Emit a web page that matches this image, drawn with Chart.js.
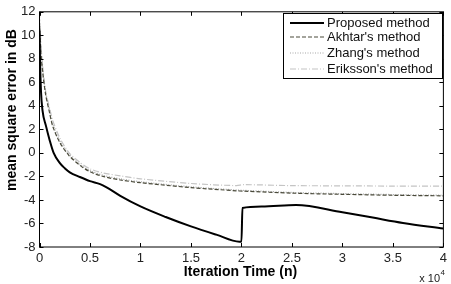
<!DOCTYPE html>
<html>
<head>
<meta charset="utf-8">
<script src="https://cdn.jsdelivr.net/npm/chart.js@4.4.0/dist/chart.umd.min.js"></script>
<style>
  html, body { margin: 0; padding: 0; background: #fff; }
  #wrap { width: 451px; height: 284px; position: relative; }
</style>
</head>
<body>
<div id="wrap"><canvas id="c"></canvas></div>
<script>
// iteration counts (x 10^4 on the axis)
const proposedX = [0, 50, 150, 300, 640, 1000, 1400, 2000, 2500, 3000, 4000, 5000, 6000, 6600, 8000, 10000, 12500, 15000, 17500, 19800, 20000, 20100, 22000, 25400, 30000, 33000, 36000, 40000];
const proposedY = [10.5, 8, 5.2, 3.6, 2.3, 1.1, 0.0, -0.85, -1.3, -1.65, -2.05, -2.4, -2.65, -2.9, -3.65, -4.55, -5.45, -6.25, -6.95, -7.55, -7.55, -4.68, -4.55, -4.43, -5.05, -5.5, -5.95, -6.43];

const grayX = [0, 100, 300, 600, 1000, 1300, 2000, 2900, 4000, 5000, 6300, 8000, 10000, 15000, 19500, 20200, 25000, 30000, 35000, 40000];
const akhtarY = [10.8, 9, 7, 5, 3.4, 2.3, 0.9, -0.2, -1.05, -1.6, -2.0, -2.3, -2.53, -2.95, -3.22, -3.25, -3.42, -3.52, -3.6, -3.65];
const zhangY = [11.2, 9.3, 7.2, 5.2, 3.6, 2.5, 1.05, -0.1, -0.95, -1.5, -1.9, -2.2, -2.45, -2.88, -3.15, -3.18, -3.36, -3.46, -3.54, -3.6];
const erikssonY = [12, 10, 7.5, 5.3, 3.8, 2.8, 1.3, 0.05, -0.8, -1.35, -1.7, -1.95, -2.2, -2.6, -2.78, -2.7, -2.78, -2.8, -2.82, -2.83];

const seriesNames = ["Proposed method", "Akhtar's method", "Zhang's method", "Eriksson's method"];
const xTicks = [0, 0.5, 1, 1.5, 2, 2.5, 3, 3.5, 4];
const yTicks = [-8, -6, -4, -2, 0, 2, 4, 6, 8, 10, 12];

const FONT = 'Arial, "Liberation Sans", sans-serif';

function pts(xs, ys) {
  return xs.map((x, i) => ({x: x, y: ys[i]}));
}

const styles = [
  {color: '#000000', width: 2, dash: []},
  {color: '#4a4a3a', width: 1.2, dash: [4, 2]},
  {color: '#a8a8a8', width: 1.2, dash: [1, 1.5]},
  {color: '#c4c4c4', width: 1.2, dash: [6, 2, 1, 2]}
];

const datasets = [
  pts(proposedX, proposedY),
  pts(grayX, akhtarY),
  pts(grayX, zhangY),
  pts(grayX, erikssonY)
].map((d, i) => ({
  label: seriesNames[i],
  data: d,
  borderColor: styles[i].color,
  borderWidth: styles[i].width,
  borderDash: styles[i].dash,
  pointRadius: 0,
  tension: 0.3,
  fill: false
}));
// monotone keeps the jump at 2 x 10^4 sharp
datasets[0].cubicInterpolationMode = 'monotone';

const frame = {
  id: 'frame',
  afterDraw(chart) {
    const ctx = chart.ctx;
    const a = chart.chartArea;
    const xs = chart.scales.x, ys = chart.scales.y;
    ctx.save();
    ctx.strokeStyle = '#000';
    ctx.lineWidth = 1;
    ctx.setLineDash([]);
    ctx.strokeRect(a.left, a.top, a.right - a.left, a.bottom - a.top);
    // inward ticks on all sides
    ctx.beginPath();
    xTicks.forEach(t => {
      const px = Math.round(xs.getPixelForValue(t * 1e4)) + 0.5;
      ctx.moveTo(px, a.bottom); ctx.lineTo(px, a.bottom - 4);
      ctx.moveTo(px, a.top); ctx.lineTo(px, a.top + 4);
    });
    yTicks.forEach(t => {
      const py = Math.round(ys.getPixelForValue(t)) + 0.5;
      ctx.moveTo(a.left, py); ctx.lineTo(a.left + 4, py);
      ctx.moveTo(a.right, py); ctx.lineTo(a.right - 4, py);
    });
    ctx.stroke();

    // axis titles
    ctx.fillStyle = '#000';
    ctx.font = 'bold 14px ' + FONT;
    ctx.textAlign = 'center';
    ctx.textBaseline = 'middle';
    ctx.fillText('Iteration Time (n)', 240.5, 272);
    ctx.save();
    ctx.translate(12, 110);
    ctx.rotate(-Math.PI / 2);
    ctx.fillText('mean square error in dB', 0, 0);
    ctx.restore();

    // exponent note
    ctx.font = '11px ' + FONT;
    ctx.fillStyle = '#222';
    ctx.textAlign = 'right';
    ctx.fillText('x 10', 440, 279);
    ctx.font = '8px ' + FONT;
    ctx.textAlign = 'left';
    ctx.fillText('4', 440.5, 273);

    // legend box
    ctx.fillStyle = '#fff';
    ctx.fillRect(283, 13, 159, 65);
    ctx.strokeStyle = '#000';
    ctx.lineWidth = 1;
    ctx.strokeRect(283.5, 13.5, 159, 65);
    const rows = [23, 37, 53, 69];
    ctx.font = '13px ' + FONT;
    ctx.textAlign = 'left';
    ctx.textBaseline = 'middle';
    seriesNames.forEach((name, i) => {
      const s = styles[i];
      ctx.beginPath();
      ctx.strokeStyle = s.color;
      ctx.lineWidth = s.width;
      ctx.setLineDash(s.dash);
      ctx.moveTo(290, rows[i]);
      ctx.lineTo(324, rows[i]);
      ctx.stroke();
      ctx.setLineDash([]);
      ctx.fillStyle = '#111';
      ctx.fillText(name, 327, rows[i]);
    });
    ctx.restore();
  }
};

new Chart(document.getElementById('c'), {
  type: 'line',
  data: {datasets: datasets},
  options: {
    responsive: true,
    maintainAspectRatio: false,
    animation: false,
    layout: {padding: {top: 8, right: 5.5, left: 0, bottom: 0}},
    plugins: {legend: {display: false}, tooltip: {enabled: false}},
    scales: {
      x: {
        type: 'linear',
        min: 0,
        max: 40000,
        grid: {display: false, drawTicks: false},
        border: {display: false},
        afterFit(scale) { scale.height = 37; },
        afterBuildTicks(scale) { scale.ticks = xTicks.map(v => ({value: v * 1e4})); },
        ticks: {
          padding: 4,
          color: '#222',
          font: {family: FONT, size: 13},
          maxRotation: 0,
          callback: v => String(v / 1e4)
        }
      },
      y: {
        min: -8,
        max: 12,
        grid: {display: false, drawTicks: false},
        border: {display: false},
        afterFit(scale) { scale.width = 39.5; },
        afterBuildTicks(scale) { scale.ticks = yTicks.map(v => ({value: v})); },
        ticks: {
          padding: 4,
          color: '#222',
          font: {family: FONT, size: 13},
          callback: v => String(v)
        }
      }
    }
  },
  plugins: [frame]
});
</script>
</body>
</html>
